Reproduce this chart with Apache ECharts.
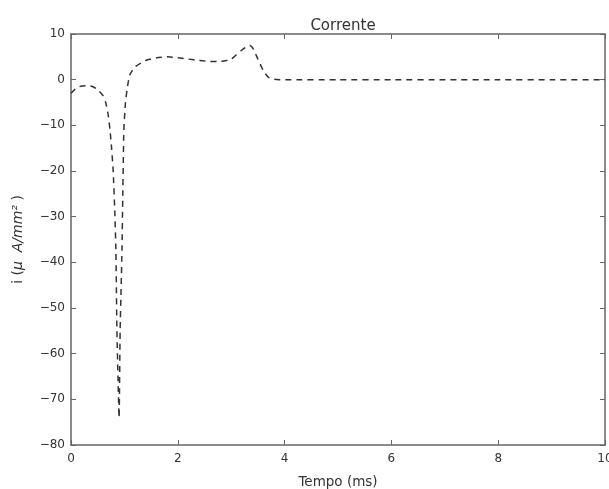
<!DOCTYPE html>
<html>
<head>
<meta charset="utf-8">
<script src="https://cdn.jsdelivr.net/npm/echarts@6/dist/echarts.min.js"></script>
<style>
  html, body { margin: 0; padding: 0; background: #fff; }
  #chart { width: 609px; height: 489px; }
</style>
</head>
<body>
<div id="chart"></div>
<script>
// tempo (ms) e corrente
const tempo = [0, 0.1, 0.2, 0.3, 0.4, 0.5, 0.6, 0.65, 0.7, 0.73, 0.76, 0.79, 0.82, 0.84, 0.86,
    0.88, 0.9, 0.92, 0.94, 0.955, 0.97, 0.99, 1.02, 1.05, 1.1, 1.2, 1.4, 1.6, 1.8, 2.0, 2.2,
    2.4, 2.6, 2.8, 3.0, 3.1, 3.2, 3.3, 3.35, 3.4, 3.5, 3.6, 3.7, 3.8, 3.9, 4.0,
    5, 6, 7, 8, 9, 10];
const corrente = [-3, -1.8, -1.4, -1.3, -1.5, -2.2, -3.5, -5, -8, -11, -15, -20, -29, -37, -55,
    -65, -74, -55, -45, -37, -25, -11, -5, -2.2, 1, 2.8, 4.2, 4.8, 5, 4.8, 4.5,
    4.2, 4, 4, 4.5, 5.5, 6.5, 7.3, 7.5, 7, 4.5, 2, 0.5, 0.1, 0, 0,
    0, 0, 0, 0, 0, 0];
const xTicks = [0, 2, 4, 6, 8, 10];
const yTicks = [10, 0, -10, -20, -30, -40, -50, -60, -70, -80];

const chart = echarts.init(document.getElementById('chart'));
const axisColor = '#666';
const font = 'DejaVu Sans';

const baseX = {
    type: 'value', min: 0, max: 10, interval: 2,
    axisLine: { show: true, onZero: false, lineStyle: { color: axisColor, width: 1.5 } },
    axisTick: { show: true, inside: true, length: 5, lineStyle: { color: axisColor } },
    splitLine: { show: false }
};
const baseY = {
    type: 'value', min: -80, max: 10, interval: 10,
    axisLine: { show: true, onZero: false, lineStyle: { color: axisColor, width: 1.5 } },
    axisTick: { show: true, inside: true, length: 5, lineStyle: { color: axisColor } },
    splitLine: { show: false }
};

chart.setOption({
    backgroundColor: '#fff',
    animation: false,
    title: {
        text: 'Corrente', left: 338, top: 14, textAlign: 'center',
        textStyle: { fontFamily: font, fontSize: 15, fontWeight: 'normal', color: '#333' }
    },
    grid: { left: 71, right: 4, top: 34, bottom: 44, outerBoundsMode: 'none', containLabel: false },
    xAxis: [
        Object.assign({}, baseX, {
            position: 'bottom',
            name: 'Tempo (ms)', nameLocation: 'middle', nameGap: 30,
            nameTextStyle: { fontFamily: font, fontSize: 13.5, color: '#333' },
            axisLabel: {
                color: '#333', fontFamily: font, fontSize: 12, margin: 8,
                formatter: v => xTicks.includes(v) ? String(v) : ''
            }
        }),
        Object.assign({}, baseX, { position: 'top', axisLabel: { show: false } })
    ],
    yAxis: [
        Object.assign({}, baseY, {
            position: 'left',
            name: '{a|i (}{b|\u03bc  A/mm\u00b2 }{a|)}', nameLocation: 'middle', nameGap: 46,
            nameTextStyle: {
                color: '#333',
                rich: {
                    a: { fontFamily: font, fontSize: 14, color: '#333' },
                    b: { fontFamily: font, fontSize: 14, fontStyle: 'italic', color: '#333' }
                }
            },
            axisLabel: {
                color: '#333', fontFamily: font, fontSize: 12, margin: 6,
                formatter: v => yTicks.includes(v) ? String(v).replace('-', '\u2212') : ''
            }
        }),
        Object.assign({}, baseY, { position: 'right', axisLabel: { show: false } })
    ],
    series: [{
        type: 'line',
        data: tempo.map((t, k) => [t, corrente[k]]),
        showSymbol: false,
        smooth: 0.2,
        lineStyle: { color: '#333', width: 1.5, type: [6, 5] }
    }]
});
</script>
</body>
</html>
